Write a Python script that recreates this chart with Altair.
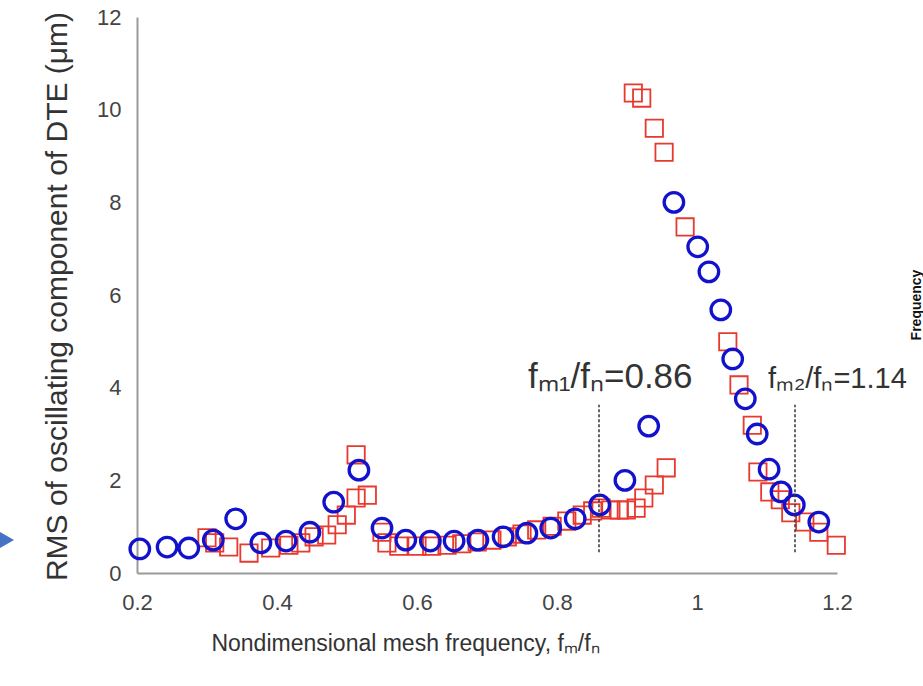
import altair as alt
import pandas as pd

# Blue circles series
blue_x = [0.204, 0.243, 0.274, 0.309, 0.341, 0.377, 0.413, 0.447, 0.481, 0.517, 0.550,
          0.584, 0.619, 0.653, 0.687, 0.723, 0.757, 0.791, 0.826, 0.861, 0.897, 0.931,
          0.967, 1.001, 1.017, 1.034, 1.051, 1.069, 1.086, 1.103, 1.120, 1.139, 1.174]
blue_y = [0.52, 0.56, 0.54, 0.71, 1.17, 0.65, 0.69, 0.88, 1.53, 2.22, 0.97,
          0.71, 0.69, 0.69, 0.71, 0.78, 0.86, 0.97, 1.17, 1.47, 2.00, 3.17,
          8.00, 7.04, 6.50, 5.68, 4.62, 3.76, 3.00, 2.24, 1.75, 1.47, 1.10]

# Red squares series
red_x = [0.300, 0.311, 0.331, 0.360, 0.391, 0.417, 0.434, 0.453, 0.471, 0.486, 0.499,
         0.513, 0.513, 0.529, 0.550, 0.557, 0.574, 0.600, 0.621, 0.643, 0.664, 0.686,
         0.707, 0.729, 0.750, 0.771, 0.793, 0.814, 0.836, 0.851, 0.863, 0.877, 0.889,
         0.899, 0.913, 0.924, 0.939, 0.956, 0.909, 0.921, 0.939, 0.953, 0.983, 1.044,
         1.060, 1.079, 1.087, 1.104, 1.119, 1.134, 1.154, 1.174, 1.199]
red_y = [0.76, 0.65, 0.56, 0.43, 0.54, 0.60, 0.65, 0.78, 0.82, 1.04, 1.25,
         2.55, 1.62, 1.68, 0.88, 0.65, 0.58, 0.58, 0.58, 0.60, 0.63, 0.67,
         0.71, 0.78, 0.84, 0.93, 1.01, 1.12, 1.25, 1.34, 1.40, 1.36, 1.36,
         1.36, 1.40, 1.62, 1.90, 2.27, 10.36, 10.25, 9.60, 9.08, 7.47, 4.99,
         4.06, 3.19, 2.18, 1.75, 1.58, 1.30, 1.10, 0.88, 0.60]

# Critical frequency markers
crit_x = [0.86, 1.14]
crit_labels = ["fₘ₁/fₙ=0.86", "fₘ₂/fₙ=1.14"]
crit_dx = [-71, -27]
crit_size = [35, 29]
line_lo, line_hi = 0.45, 3.63
label_y = 4.0

x_ticks = [0.2, 0.4, 0.6, 0.8, 1.0, 1.2]
y_ticks = [0, 2, 4, 6, 8, 10, 12]

FONT = "Liberation Sans"

blue_df = pd.DataFrame({"x": blue_x, "y": blue_y})
red_df = pd.DataFrame({"x": red_x, "y": red_y})
crit_df = pd.DataFrame({"x": crit_x, "lo": [line_lo] * 2, "hi": [line_hi] * 2,
                        "label": crit_labels, "ly": [label_y] * 2})

xscale = alt.Scale(domain=[0.2, 1.2], nice=False, zero=False)
yscale = alt.Scale(domain=[0, 12], nice=False)

xaxis = alt.Axis(values=x_ticks, format="~g", title="Nondimensional mesh frequency, fₘ/fₙ",
                 titleX=268, titleY=70, titleAlign="center", titleBaseline="middle",
                 labelPadding=19, labelFlush=False, labelOverlap=False,
                 labelFont=FONT, labelFontSize=22, labelColor="#444444",
                 titleFont=FONT, titleFontSize=23, titleFontWeight="normal", titleColor="#333333",
                 ticks=False, grid=False, domainColor="#9a9a9a", domainWidth=2)
yaxis = alt.Axis(values=y_ticks, title="RMS of oscillating component of DTE (μm)",
                 titleX=-80, titleY=279, titleAngle=270, titleAlign="center",
                 titleBaseline="middle", labelPadding=16, labelFlush=False, labelOverlap=False,
                 labelFont=FONT, labelFontSize=22, labelColor="#444444",
                 titleFont=FONT, titleFontSize=30, titleFontWeight="normal", titleColor="#333333",
                 ticks=False, grid=False, domainColor="#9a9a9a", domainWidth=2)

squares = alt.Chart(red_df).mark_point(
    shape="square", filled=False, color="#e8392f", size=300, strokeWidth=1.8, opacity=1
).encode(x=alt.X("x:Q", scale=xscale, axis=xaxis), y=alt.Y("y:Q", scale=yscale, axis=yaxis))

circles = alt.Chart(blue_df).mark_point(
    shape="circle", filled=False, color="#1212cc", size=380, strokeWidth=3.3, opacity=1
).encode(x=alt.X("x:Q", scale=xscale), y=alt.Y("y:Q", scale=yscale))

rules = alt.Chart(crit_df).mark_rule(color="#333333", strokeWidth=1.5, strokeDash=[3, 2]).encode(
    x=alt.X("x:Q", scale=xscale), y=alt.Y("lo:Q", scale=yscale), y2="hi:Q")

texts = []
for i in range(2):
    texts.append(alt.Chart(crit_df.iloc[[i]]).mark_text(
        align="left", baseline="alphabetic", dx=crit_dx[i], font=FONT, fontSize=crit_size[i],
        color="#333333").encode(
        x=alt.X("x:Q", scale=xscale), y=alt.Y("ly:Q", scale=yscale), text="label:N"))

# cropped-edge artefacts from the source figure
freq_text = alt.Chart(pd.DataFrame({"t": ["Frequency"]})).mark_text(
    angle=270, align="center", baseline="alphabetic", font=FONT, fontSize=14,
    fontWeight="bold", color="#111111").encode(
    x=alt.value(784), y=alt.value(288), text="t:N")
arrow = alt.Chart(pd.DataFrame({"a": [1]})).mark_point(
    shape="triangle-right", filled=True, color="#4472c4", size=900, opacity=1).encode(
    x=alt.value(-136), y=alt.value(523))

chart = alt.layer(squares, circles, rules, *texts, freq_text, arrow).properties(
    width=700, height=556,
    autosize=alt.AutoSizeParams(type="none"),
    padding={"left": 137, "top": 17, "right": 86, "bottom": 113},
).configure_view(stroke=None)

chart.save("out.html", embed_options={"renderer": "svg", "actions": False})
